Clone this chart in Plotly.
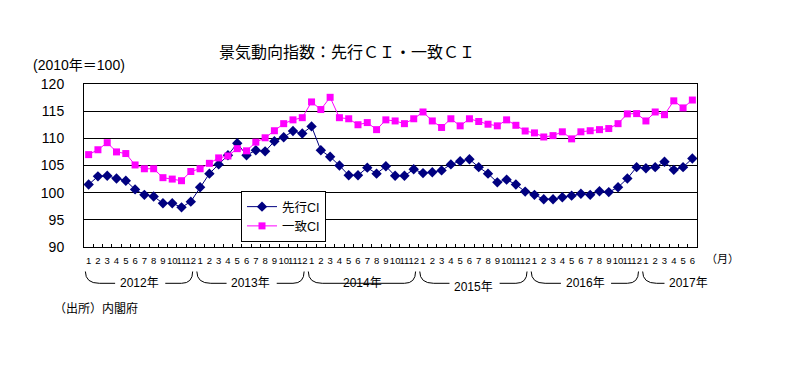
import plotly.graph_objects as go

# ---------------- data ----------------
years = [2012, 2013, 2014, 2015, 2016, 2017]
months_per_year = [12, 12, 12, 12, 12, 6]
month_labels = [str(m) for n in months_per_year for m in range(1, n + 1)]

leading_ci = [101.5, 103.0, 103.1, 102.6, 102.2, 100.6, 99.6, 99.3, 98.05, 98.05, 97.3, 98.35,
              101.0, 103.5, 105.2, 106.9, 109.1, 106.9, 107.8, 107.6, 109.45, 110.2, 111.35, 110.9,
              112.2, 107.8, 106.6, 105.0, 103.2, 103.2, 104.6, 103.5, 104.85, 103.1, 103.1, 104.3,
              103.6, 103.75, 104.1, 105.2, 105.8, 106.15, 104.7, 103.5, 101.9, 102.4, 101.5, 100.2,
              99.6, 98.8, 98.8, 99.15, 99.45, 99.8, 99.6, 100.25, 100.1, 101.0, 102.6, 104.7,
              104.5, 104.7, 105.7, 104.2, 104.7, 106.3]

coincident_ci = [107.0, 107.9, 109.2, 107.5, 107.2, 105.1, 104.4, 104.4, 102.76, 102.5, 102.2, 103.9,
                 104.4, 105.4, 106.4, 106.75, 108.1, 107.7, 109.3, 110.1, 111.4, 112.7, 113.4, 113.8,
                 116.7, 115.3, 117.55, 113.8, 113.6, 112.5, 112.9, 111.6, 113.4, 113.2, 112.7, 113.6,
                 114.85, 113.2, 112.0, 113.6, 112.3, 113.6, 113.1, 112.6, 112.3, 113.4, 112.4, 111.35,
                 111.0, 110.25, 110.5, 111.2, 109.9, 111.2, 111.4, 111.6, 111.8, 112.7, 114.5, 114.55,
                 113.2, 114.85, 114.35, 116.9, 115.6, 117.05]

y_ticks = [90, 95, 100, 105, 110, 115, 120]

# ---------------- layout helpers ----------------
W, H = 785, 378
L, R, T, B = 84, 697, 84, 247
FONT = "Liberation Sans, Noto Sans CJK JP, sans-serif"

def px_x(px):
    return (px - L) / (R - L)

def px_y(py):
    return (B - py) / (B - T)

x = list(range(len(month_labels)))

fig = go.Figure()
fig.add_trace(go.Scatter(
    x=x, y=leading_ci, name="先行CI", mode="lines+markers",
    line=dict(color="#000080", width=1),
    marker=dict(symbol="diamond", size=8, color="#000080"),
))
fig.add_trace(go.Scatter(
    x=x, y=coincident_ci, name="一致CI", mode="lines+markers",
    line=dict(color="#FF00FF", width=1),
    marker=dict(symbol="square", size=7, color="#FF00FF"),
))

# ---------------- year braces ----------------
shapes = []
annotations = []
y_top = px_y(271.5)
y_bot = px_y(283.3)
start = 0
for yr, n in zip(years, months_per_year):
    left = start - 0.35
    right = start + n - 1 + 0.2
    center = start + 5.45 if n == 12 else start + 4.6
    line_style = dict(color="black", width=1)
    shapes.append(dict(type="path", xref="x", yref="paper", line=line_style,
                       path=f"M {left},{y_top} Q {left},{y_bot} {left + 1.5},{y_bot}"))
    if yr == 2014:
        shapes.append(dict(type="line", xref="x", yref="paper", line=line_style,
                           x0=left + 1.5, x1=right - 1.2, y0=y_bot, y1=y_bot))
    else:
        shapes.append(dict(type="line", xref="x", yref="paper", line=line_style,
                           x0=left + 1.5, x1=center - 2.6, y0=y_bot, y1=y_bot))
        if n == 12:
            shapes.append(dict(type="line", xref="x", yref="paper", line=line_style,
                               x0=center + 2.8, x1=right - 1.2, y0=y_bot, y1=y_bot))
    if n == 12:
        shapes.append(dict(type="path", xref="x", yref="paper", line=line_style,
                           path=f"M {right - 1.2},{y_bot} Q {right},{y_bot} {right},{y_top}"))
    ty = px_y(286.5) if yr == 2015 else px_y(282.5)
    annotations.append(dict(text=f"{yr}年", x=center, y=ty, xref="x", yref="paper",
                            showarrow=False, xanchor="center", yanchor="middle",
                            font=dict(size=12, family=FONT, color="black")))
    start += n

annotations += [
    dict(text="景気動向指数：先行ＣＩ・一致ＣＩ", x=px_x(347), y=px_y(52.5), xref="paper", yref="paper",
         showarrow=False, xanchor="center", yanchor="middle",
         font=dict(size=16, family=FONT, color="black")),
    dict(text="(2010年＝100)", x=px_x(31), y=px_y(64.5), xref="paper", yref="paper",
         showarrow=False, xanchor="left", yanchor="middle",
         font=dict(size=14, family=FONT, color="black")),
    dict(text="（出所）内閣府", x=px_x(52), y=px_y(308.5), xref="paper", yref="paper",
         showarrow=False, xanchor="left", yanchor="middle",
         font=dict(size=12, family=FONT, color="black")),
    dict(text="（月）", x=px_x(704), y=px_y(259), xref="paper", yref="paper",
         showarrow=False, xanchor="left", yanchor="middle",
         font=dict(size=11, family=FONT, color="black")),
]

fig.update_layout(
    width=W, height=H,
    margin=dict(l=L, r=W - R, t=T, b=H - B, pad=0),
    paper_bgcolor="white", plot_bgcolor="white",
    font=dict(family=FONT, color="black"),
    showlegend=True,
    legend=dict(x=px_x(241), y=px_y(191), xanchor="left", yanchor="top",
                bgcolor="white", bordercolor="black", borderwidth=1,
                font=dict(size=12.5, family=FONT, color="black"),
                tracegroupgap=0, itemwidth=30),
    shapes=shapes,
    annotations=annotations,
)

fig.update_xaxes(
    range=[-0.5, len(x) - 0.5],
    tickmode="array", tickvals=x, ticktext=month_labels, tickangle=0,
    ticks="outside", ticklen=5, tickcolor="rgba(0,0,0,0)",
    tickfont=dict(size=9.5, family=FONT, color="black"),
    minor=dict(tickmode="array", tickvals=[i - 0.5 for i in range(1, len(x))],
               ticks="inside", ticklen=3, tickcolor="black", tickwidth=1, showgrid=False),
    showgrid=False, zeroline=False,
    showline=True, linecolor="black", linewidth=1, mirror=True,
)
fig.update_yaxes(
    range=[90, 120], tickmode="array", tickvals=y_ticks,
    ticks="", ticklabelstandoff=16,
    tickfont=dict(size=14, family=FONT, color="black"),
    showgrid=True, gridcolor="black", gridwidth=1, zeroline=False,
    showline=True, linecolor="black", linewidth=1, mirror=True,
)

fig.write_html("out.html", config={"displayModeBar": False},
               post_script="document.body.style.margin='0';document.body.style.padding='0';")
